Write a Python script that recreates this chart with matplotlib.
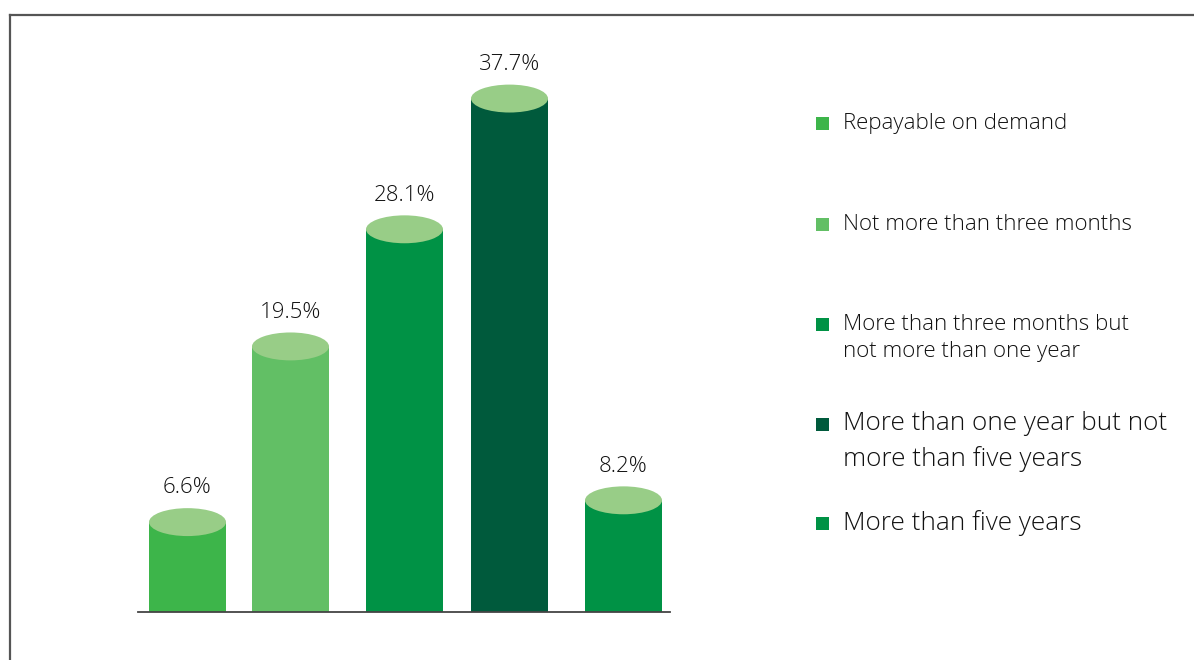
import numpy as np
import matplotlib.pyplot as plt
from matplotlib.patches import Ellipse, Rectangle
from matplotlib.lines import Line2D

# Maturity split of funding (%)
categories = ["Repayable on demand",
              "Not more than three months",
              "More than three months but\nnot more than one year",
              "More than one year but not\nmore than five years",
              "More than five years"]
values = [6.6, 19.5, 28.1, 37.7, 8.2]
labels = ["6.6%", "19.5%", "28.1%", "37.7%", "8.2%"]

colors = ["#3db54a", "#62bf65", "#009245", "#005a3c", "#009245"]
top_color = "#98cd87"
text_color = "#111111"

plt.rcParams['font.family'] = ['Open Sans', 'DejaVu Sans']

W, H = 1194, 660
fig = plt.figure(figsize=(W / 100, H / 100), dpi=100)


def fx(px):
    return px / W


def fy(py):
    return 1 - py / H


# chart area: baseline at y=612, from x=138 to x=670 (x in pixel units)
ax = fig.add_axes([fx(138), fy(612), fx(670 - 138), fy(40) - fy(612)])
ax.set_ylim(0, 42)
ax.set_xlim(138, 670)

xpos = [187.5, 290.5, 404.5, 509.5, 623.5]
bw = 77
ell_h = 2.05
ax.bar(xpos, values, width=bw, color=colors, zorder=2)
for xi, v, lab in zip(xpos, values, labels):
    ax.add_patch(Ellipse((xi, v), bw, ell_h, facecolor=top_color,
                         edgecolor='none', zorder=3))
    ax.annotate(lab, (xi, v + ell_h / 2), xytext=(0, 7), textcoords='offset points',
                ha='center', va='bottom', fontsize=16, fontweight='light',
                color=text_color)

for s in ['top', 'left', 'right']:
    ax.spines[s].set_visible(False)
ax.spines['bottom'].set_color('#444444')
ax.spines['bottom'].set_linewidth(1.3)
ax.set_xticks([])
ax.set_yticks([])

# outer frame (top and left edges)
fig.add_artist(Line2D([fx(10), 1], [fy(15), fy(15)], color='#555555', lw=1.6))
fig.add_artist(Line2D([fx(10), fx(10)], [fy(15), 0], color='#555555', lw=1.6))

# legend built by hand
leg_y = [123, 224, 324, 424, 523]
leg_size = [16, 16, 16, 18.8, 18.8]
leg_gap = [28, 28, 28, 35, 35]
for cat, c, py, fs, gap in zip(categories, colors, leg_y, leg_size, leg_gap):
    fig.add_artist(Rectangle((fx(816), fy(py + 6.5)), fx(13), fy(0) - fy(13),
                             facecolor=c, edgecolor='none'))
    for i, line in enumerate(cat.split('\n')):
        fig.text(fx(843), fy(py + i * gap), line, fontsize=fs, color=text_color,
                 va='center', ha='left', fontweight='light')

fig.savefig('out.png', dpi=100)
